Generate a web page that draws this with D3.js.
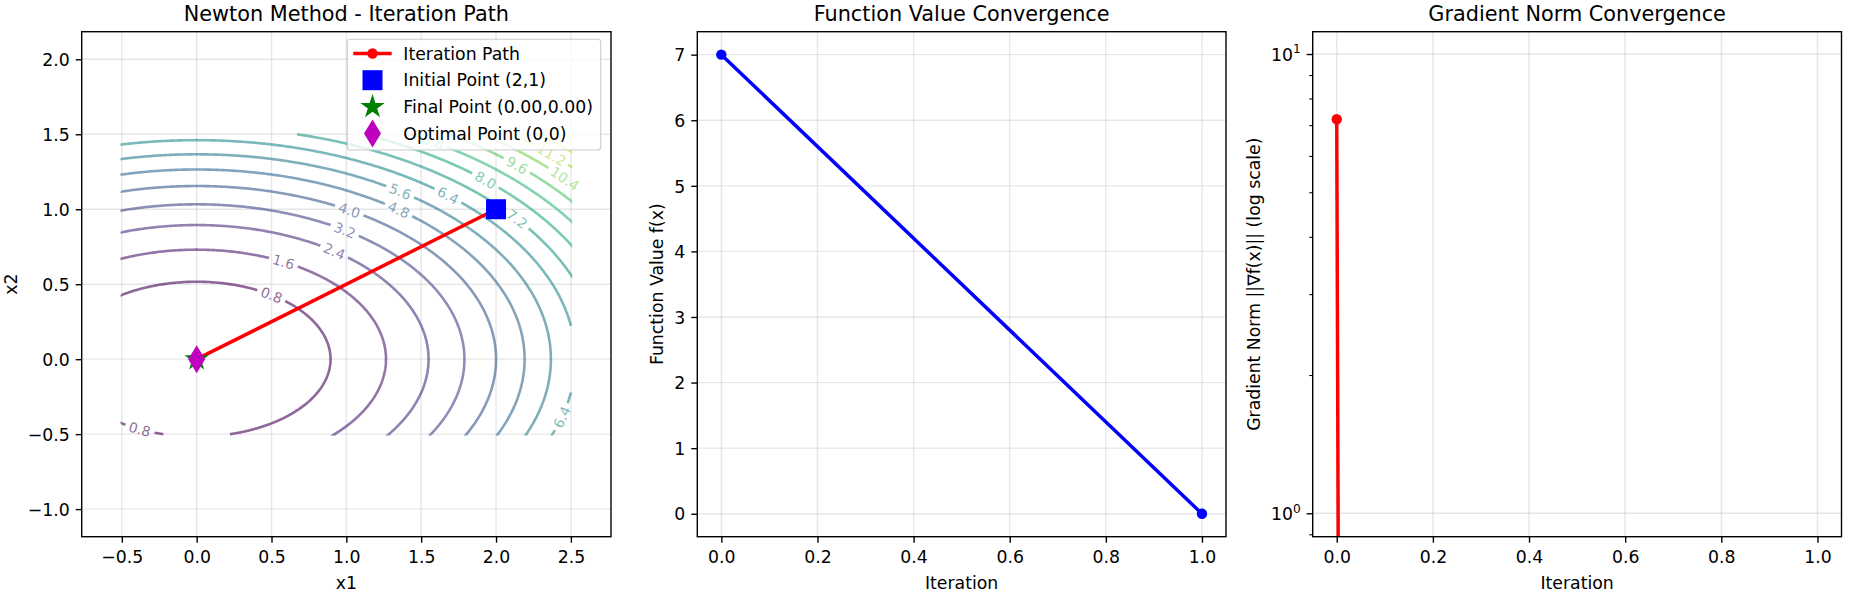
<!DOCTYPE html>
<html><head><meta charset="utf-8">
<script src="https://cdn.jsdelivr.net/npm/d3@7"></script>
<style>body{margin:0;background:#fff} svg{display:block} text{font-family:"DejaVu Sans",sans-serif}</style>
</head><body><svg id="c" width="1854" height="594"></svg>
<script>
// ---------------- data ----------------
const objectiveCoefs = [1, 3];            // f(x) = 1*x1^2 + 3*x2^2
const gridX1 = [-0.5, 2.5];
const gridX2 = [-0.5, 1.5];
const contourLevels = [0.8,1.6,2.4,3.2,4.0,4.8,5.6,6.4,7.2,8.0,8.8,9.6,10.4,11.2,12.0,12.8];
const iterations = [0, 1];
const pathX1 = [2, 0];
const pathX2 = [1, 0];
const fValues = [7, 0];
const gradNorms = [7.2111, 0];
const initialPoint = [2, 1];
const finalPoint = [0, 0];
const optimalPoint = [0, 0];
const labelLevels = [0.8,1.6,2.4,3.2,4.0,4.8,5.6,6.4,7.2,8.0,8.8,9.6,10.4,11.2,6.4,0.8];
const labelX1     = [0.50,0.58,0.92,0.99,1.02,1.35,1.36,1.68,2.14,1.93,1.58,2.14,2.46,2.37,2.44,-0.38];
const labelBranch = [1,1,1,1,1,1,1,1,1,1,1,1,1,1,-1,-1];
const xTicks1 = [-0.5,0,0.5,1,1.5,2,2.5];
const yTicks1 = [-1,-0.5,0,0.5,1,1.5,2];
const xTicks2 = [0,0.2,0.4,0.6,0.8,1.0];
const yTicks2 = [0,1,2,3,4,5,6,7];
const yTicks3 = [1,10];
const yMinor3 = [0.9,2,3,4,5,6,7,8,9];
const legendLabels = ["Iteration Path","Initial Point (2,1)","Final Point (0.00,0.00)","Optimal Point (0,0)"];
const titles = ["Newton Method - Iteration Path","Function Value Convergence","Gradient Norm Convergence"];

// ---------------- layout ----------------
const svg = d3.select("#c");
const T = 31.7, B = 536.7;
const P = [{l:81.7,r:611},{l:697.3,r:1226},{l:1312.7,r:1841.5}];
const FS = 17.3, TL = 6, TP = 6, LW = 1.39;
const gridCol = "#b0b0b0";

const xs1 = d3.scaleLinear().domain([-0.768,2.768]).range([P[0].l,P[0].r]);
const ys1 = d3.scaleLinear().domain([-1.184,2.184]).range([B,T]);
const xs2 = d3.scaleLinear().domain([-0.05,1.05]).range([P[1].l,P[1].r]);
const ys2 = d3.scaleLinear().domain([-0.35,7.35]).range([B,T]);
const xs3 = d3.scaleLinear().domain([-0.05,1.05]).range([P[2].l,P[2].r]);
const ys3 = d3.scaleLog().domain([Math.pow(10,-0.051),Math.pow(10,1.0486)]).range([B,T]);

const defs = svg.append("defs");
P.forEach((p,i)=>{
  defs.append("clipPath").attr("id","clip"+i).append("rect")
    .attr("x",p.l).attr("y",T).attr("width",p.r-p.l).attr("height",B-T);
});

function grid(xs, ys, xt, yt, p){
  const g = svg.append("g").attr("stroke",gridCol).attr("stroke-opacity",0.3).attr("stroke-width",LW);
  xt.forEach(v=>g.append("line").attr("x1",xs(v)).attr("x2",xs(v)).attr("y1",T).attr("y2",B));
  yt.forEach(v=>g.append("line").attr("x1",p.l).attr("x2",p.r).attr("y1",ys(v)).attr("y2",ys(v)));
}
function styleAxis(g){
  g.select(".domain").remove();
  g.selectAll(".tick line").attr("stroke","#000").attr("stroke-width",LW);
  g.selectAll(".tick text").attr("font-size",FS).attr("font-family","DejaVu Sans").attr("fill","#000");
  g.attr("font-size",null).attr("font-family",null);
}
function xAxis(xs, ticks, fmt){
  const g = svg.append("g").attr("transform",`translate(0,${B})`)
    .call(d3.axisBottom(xs).tickValues(ticks).tickFormat(fmt).tickSize(TL).tickPadding(TP));
  styleAxis(g);
  g.selectAll(".tick text").attr("y",null).attr("dy",null).attr("transform",`translate(0,${562.5-B})`);
}
function yAxis(ys, ticks, fmt, p){
  const g = svg.append("g").attr("transform",`translate(${p.l},0)`)
    .call(d3.axisLeft(ys).tickValues(ticks).tickFormat(fmt).tickSize(TL).tickPadding(TP));
  styleAxis(g);
  g.selectAll(".tick text").attr("dy","0.36em");
  return g;
}
function frame(p){
  svg.append("rect").attr("x",p.l).attr("y",T).attr("width",p.r-p.l).attr("height",B-T)
    .attr("fill","none").attr("stroke","#000").attr("stroke-width",LW);
}
function title(p, t){
  svg.append("text").attr("x",(p.l+p.r)/2).attr("y",21.2).attr("text-anchor","middle")
    .attr("font-size",20.8).attr("fill","#000").text(t);
}
function xLabel(p, t){
  svg.append("text").attr("x",(p.l+p.r)/2).attr("y",588.8).attr("text-anchor","middle")
    .attr("font-size",FS).attr("fill","#000").text(t);
}
function yLabel(p, t, leftEdge){
  const x = leftEdge - 6.9 - 4.1, y = (T+B)/2;
  svg.append("text").attr("transform",`translate(${x},${y}) rotate(-90)`).attr("text-anchor","middle")
    .attr("font-size",FS).attr("fill","#000").text(t);
}
function leftOf(g){ return g.node().getBBox().x + (+g.attr("transform").match(/translate\(([-\d.]+)/)[1]); }

function starPath(cx, cy, R){
  const pts = d3.range(10).map(k=>{
    const a = -Math.PI/2 + k*Math.PI/5, r = k%2===0 ? R : R*0.381966;
    return [cx + r*Math.cos(a), cy + r*Math.sin(a)];
  });
  return "M" + pts.map(p=>p.join(",")).join("L") + "Z";
}
function diamondPath(cx, cy, hw, hh){
  return `M${cx},${cy-hh}L${cx+hw},${cy}L${cx},${cy+hh}L${cx-hw},${cy}Z`;
}

// ================= Panel 1 : contour + path =================
grid(xs1, ys1, xTicks1, yTicks1, P[0]);

const step = 0.01;
const n = Math.round((gridX1[1]-gridX1[0])/step)+1;
const m = Math.round((gridX2[1]-gridX2[0])/step)+1;
const values = new Float64Array(n*m);
for (let j=0;j<m;j++) for (let i=0;i<n;i++){
  const a = gridX1[0]+i*step, b = gridX2[0]+j*step;
  values[j*n+i] = objectiveCoefs[0]*a*a + objectiveCoefs[1]*b*b;
}
const contours = d3.contours().size([n,m]).thresholds(contourLevels)(values);
const lvlMin = d3.min(contourLevels), lvlMax = d3.max(contourLevels);
const colorOf = L => d3.interpolateViridis((L-lvlMin)/(lvlMax-lvlMin));

function onB(p,q){
  return (p[0]===0&&q[0]===0)||(p[0]===n&&q[0]===n)||(p[1]===0&&q[1]===0)||(p[1]===m&&q[1]===m);
}
function ringToLines(ring){
  ring = ring.slice();
  const f = ring[0], l = ring[ring.length-1];
  if (f[0]!==l[0]||f[1]!==l[1]) ring.push(f);
  const K = ring.length-1;
  let start = -1;
  for (let k=0;k<K;k++) if (onB(ring[k],ring[k+1])) {start=k;break;}
  if (start<0) return [ring];
  const lines=[]; let cur=null;
  for (let t=1;t<=K;t++){
    const k=(start+t)%K;
    if (onB(ring[k],ring[k+1])) { if(cur){lines.push(cur);cur=null;} }
    else { if(!cur) cur=[ring[k]]; cur.push(ring[k+1]); }
  }
  if (cur) lines.push(cur);
  return lines;
}
const toX1 = cx => Math.max(gridX1[0], Math.min(gridX1[1], gridX1[0]+(cx-0.5)*step));
const toX2 = cy => Math.max(gridX2[0], Math.min(gridX2[1], gridX2[0]+(cy-0.5)*step));
const lineGen = d3.line().x(p=>xs1(toX1(p[0]))).y(p=>ys1(toX2(p[1])));

// label mask
const mask = defs.append("mask").attr("id","lblmask").attr("maskUnits","userSpaceOnUse")
  .attr("x",0).attr("y",0).attr("width",1854).attr("height",594);
mask.append("rect").attr("x",0).attr("y",0).attr("width",1854).attr("height",594).attr("fill","#fff");

const cg = svg.append("g").attr("clip-path","url(#clip0)").append("g").attr("mask","url(#lblmask)")
  .attr("fill","none").attr("stroke-width",2.6).attr("stroke-opacity",0.6);
contours.forEach(c=>{
  const col = colorOf(c.value);
  c.coordinates.forEach(poly=>poly.forEach(ring=>{
    ringToLines(ring).forEach(line=>{
      cg.append("path").attr("d",lineGen(line)).attr("stroke",col);
    });
  }));
});

// contour labels
const lblG = svg.append("g");
const kx = xs1(1)-xs1(0), ky = ys1(0)-ys1(1);
labelLevels.forEach((L,i)=>{
  const a = labelX1[i];
  const b = labelBranch[i]*Math.sqrt(Math.max(0,(L-objectiveCoefs[0]*a*a)/objectiveCoefs[1]));
  const px = xs1(a), py = ys1(b);
  const g1 = 2*objectiveCoefs[0]*a, g2 = 2*objectiveCoefs[1]*b;
  let ang = Math.atan2(-ky*g1, kx*(-g2))*180/Math.PI;
  if (ang>90) ang-=180; if (ang<-90) ang+=180;
  const txt = d3.format(".1f")(L);
  const t = lblG.append("text").attr("transform",`translate(${px},${py}) rotate(${ang})`)
    .attr("text-anchor","middle").attr("dy","0.36em").attr("font-size",13.9)
    .attr("fill",colorOf(L)).attr("fill-opacity",0.6).text(txt);
  const w = t.node().getComputedTextLength();
  mask.append("rect").attr("x",-(w+8)/2).attr("y",-7).attr("width",w+8).attr("height",14)
    .attr("fill","#000").attr("transform",`translate(${px},${py}) rotate(${ang})`);
});

// iteration path
const p1g = svg.append("g").attr("clip-path","url(#clip0)");
const pathPts = pathX1.map((v,i)=>[v,pathX2[i]]);
p1g.append("path").attr("d",d3.line().x(d=>xs1(d[0])).y(d=>ys1(d[1]))(pathPts))
  .attr("fill","none").attr("stroke","#ff0000").attr("stroke-width",3.47);
pathPts.forEach(d=>p1g.append("circle").attr("cx",xs1(d[0])).attr("cy",ys1(d[1])).attr("r",5.2).attr("fill","#ff0000"));
p1g.append("rect").attr("x",xs1(initialPoint[0])-10).attr("y",ys1(initialPoint[1])-10)
  .attr("width",20).attr("height",20).attr("fill","#0000ff");
p1g.append("path").attr("d",starPath(xs1(finalPoint[0]),ys1(finalPoint[1]),12.8)).attr("fill","#008000");
p1g.append("path").attr("d",diamondPath(xs1(optimalPoint[0]),ys1(optimalPoint[1]),8.5,14)).attr("fill","#bf00bf");

frame(P[0]);
xAxis(xs1, xTicks1, d3.format(".1f"));
const ya1 = yAxis(ys1, yTicks1, d3.format(".1f"), P[0]);
title(P[0], titles[0]);
xLabel(P[0], "x1");
yLabel(P[0], "x2", leftOf(ya1));

// legend
const lg = svg.append("g");
lg.append("rect").attr("x",347.3).attr("y",39.3).attr("width",253.4).attr("height",110.7).attr("rx",3)
  .attr("fill","#fff").attr("fill-opacity",0.8).attr("stroke","#cccccc").attr("stroke-width",1.1);
const hx = 372.5, tx0 = 403.3;
legendLabels.forEach((s,i)=>{
  const cy = 53.5 + i*26.7;
  lg.append("text").attr("x",tx0).attr("y",cy).attr("dy","0.36em").attr("font-size",FS).attr("fill","#000").text(s);
  if (i===0){
    lg.append("line").attr("x1",hx-19.2).attr("x2",hx+19.2).attr("y1",cy).attr("y2",cy)
      .attr("stroke","#ff0000").attr("stroke-width",3.47);
    lg.append("circle").attr("cx",hx).attr("cy",cy).attr("r",5.2).attr("fill","#ff0000");
  } else if (i===1){
    lg.append("rect").attr("x",hx-10).attr("y",cy-10).attr("width",20).attr("height",20).attr("fill","#0000ff");
  } else if (i===2){
    lg.append("path").attr("d",starPath(hx,cy,12.8)).attr("fill","#008000");
  } else {
    lg.append("path").attr("d",diamondPath(hx,cy,8.5,14)).attr("fill","#bf00bf");
  }
});

// ================= Panel 2 : function value =================
grid(xs2, ys2, xTicks2, yTicks2, P[1]);
const p2g = svg.append("g").attr("clip-path","url(#clip1)");
p2g.append("path").attr("d",d3.line().x((d,i)=>xs2(iterations[i])).y(d=>ys2(d))(fValues))
  .attr("fill","none").attr("stroke","#0000ff").attr("stroke-width",3.47);
fValues.forEach((v,i)=>p2g.append("circle").attr("cx",xs2(iterations[i])).attr("cy",ys2(v)).attr("r",5.2).attr("fill","#0000ff"));
frame(P[1]);
xAxis(xs2, xTicks2, d3.format(".1f"));
const ya2 = yAxis(ys2, yTicks2, d3.format("d"), P[1]);
title(P[1], titles[1]);
xLabel(P[1], "Iteration");
yLabel(P[1], "Function Value f(x)", leftOf(ya2));

// ================= Panel 3 : gradient norm (log) =================
grid(xs3, ys3, xTicks2, yTicks3, P[2]);
const p3g = svg.append("g").attr("clip-path","url(#clip2)");
const clipLow = v => v>0 ? v : 1e-300;
p3g.append("path").attr("d",d3.line().x((d,i)=>xs3(iterations[i])).y(d=>ys3(clipLow(d)))(gradNorms))
  .attr("fill","none").attr("stroke","#ff0000").attr("stroke-width",3.47);
gradNorms.forEach((v,i)=>{ if(v>0) p3g.append("circle").attr("cx",xs3(iterations[i])).attr("cy",ys3(v)).attr("r",5.2).attr("fill","#ff0000"); });
frame(P[2]);
xAxis(xs3, xTicks2, d3.format(".1f"));
const ya3 = svg.append("g").attr("transform",`translate(${P[2].l},0)`)
  .call(d3.axisLeft(ys3).tickValues(yTicks3).tickFormat(()=>"").tickSize(TL).tickPadding(TP));
styleAxis(ya3);
ya3.selectAll(".tick text").each(function(d){
  const t = d3.select(this).attr("dy","0.36em");
  t.append("tspan").text("10");
  t.append("tspan").attr("font-size",12.1).attr("dy","-0.62em").text(String(Math.round(Math.log10(d))));
});
const ym3 = svg.append("g").attr("transform",`translate(${P[2].l},0)`)
  .call(d3.axisLeft(ys3).tickValues(yMinor3).tickFormat(()=>"").tickSize(3.5));
ym3.select(".domain").remove();
ym3.selectAll(".tick line").attr("stroke","#000").attr("stroke-width",1.04);
title(P[2], titles[2]);
xLabel(P[2], "Iteration");
yLabel(P[2], "Gradient Norm ||∇f(x)|| (log scale)", leftOf(ya3));
</script></body></html>
